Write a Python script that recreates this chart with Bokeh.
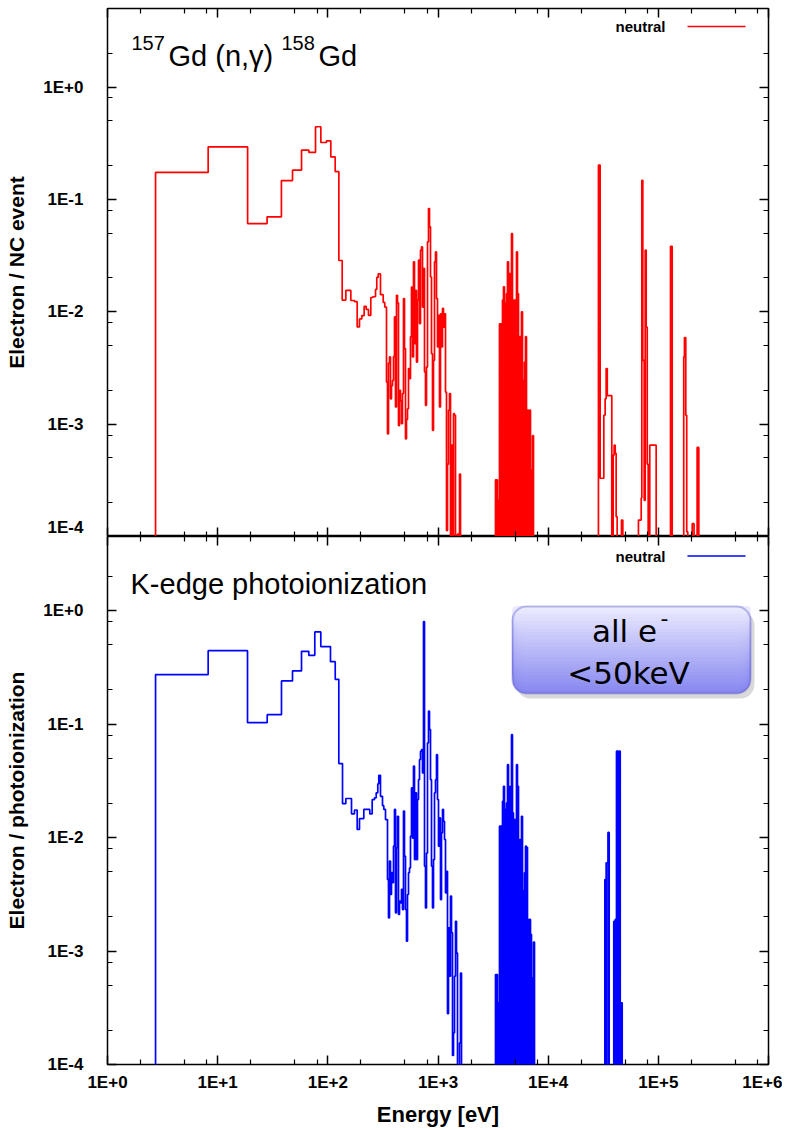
import numpy as np
from bokeh.plotting import figure
from bokeh.layouts import column
from bokeh.models import (LogAxis, FixedTicker, CustomJSTickFormatter, Label,
                          BoxAnnotation, Arrow, Range1d)
from bokeh.embed import file_html
from bokeh.resources import INLINE

# ---------------- data ----------------
x_major = [1, 10, 100, 1e3, 1e4, 1e5, 1e6]
y_major = [1e-4, 1e-3, 1e-2, 1e-1, 1]
minor_mant = [2, 5, 8]

# --- 157Gd(n,gamma)158Gd : electrons per NC event ---
nc_low_edges = [2.73, 8.2, 18.7, 28.1, 37.9, 47.8, 57.7, 67.3, 77.3, 86.4, 97.3, 106.4,
                116.6, 125.9, 135, 145.6, 161.7, 174.6, 184.7, 193.8, 203.3, 213.7, 222.8,
                233.8, 245.5, 256, 270.8, 278.2, 286.4, 300.6, 318, 328.8, 340.8]
nc_low_vals = [0.174, 0.294, 0.061, 0.070, 0.147, 0.182, 0.275, 0.262, 0.443, 0.321,
               0.332, 0.239, 0.177, 0.0286, 0.0127, 0.0155, 0.0126, 0.0123, 0.00733, 0.00864,
               0.00925, 0.0112, 0.0105, 0.0093, 0.0134, 0.0136, 0.0158, 0.0202, 0.0217, 0.0142,
               0.0121, 0.011]

mid_edges = [340.8, 348.0, 355.3, 362.8, 370.5, 378.3, 386.3, 394.5, 402.8, 411.3, 420.0,
             428.9, 437.9, 447.2, 456.6, 466.3, 476.1, 486.2, 496.4, 507.0, 517.6, 528.6,
             539.7, 551.0, 562.6, 574.6, 586.7, 599.1, 611.8, 624.7, 637.9, 651.5, 665.2,
             679.3, 693.6, 708.3, 723.3, 738.6, 754.2, 770.1, 786.4, 803.0, 819.9, 837.3,
             855.0, 873.0, 891.5, 910.3, 929.5, 949.2, 969.2, 989.7, 1010.6, 1032, 1053.8,
             1076, 1098.8, 1122, 1145.7, 1169.9, 1194.6, 1219.8, 1245.6, 1271.9, 1298.8,
             1326.2, 1354.2, 1382.8, 1412, 1441.9, 1472.3, 1503.4, 1535.2, 1567.6, 1600.7,
             1634.5, 1669.0]
nc_mid_vals = [0.00237, 8.2e-4, 0.0035, 0.00396, 0.00168, 0.0022, 0.00245, 0.004, 0.009, 0.00142,
               0.014, 0.012, 9.7e-4, 0.002, 0.0016, 0.00101, 0.00187, 0.0131, 0.0047, 7.4e-4,
               0.0011, 0.00137, 0.00312, 0.00254, 0.006,
               0.0166, 0.00396, 0.0278, 0.0052, 0.0155, 0.00357, 0.0127, 0.0288, 0.00785, 0.0353,
               0.0378, 0.0110, 0.0243, 0.00291, 0.00147, 0.00322, 0.0419, 0.083, 0.057, 0.0204,
               0.00424, 8.8e-4, 0.0037, 0.0278, 0.0341, 0.0131, 0.00486, 0.0093, 0.00142, 0.0096,
               0.00486, 0.0107, 0.0073, 0.0096, 0.00193, 1.13e-4, 4.4e-4, 0.00133, 0.00187, 0,
               6.5e-4, 0, 0.00124, 0.0012, 0, 0, 1.05e-4, 0, 3.6e-4, 0,
               0]

cl_edges = [3325, 3395, 3467, 3540, 3615, 3691, 3769, 3849, 3930, 4013, 4098, 4185, 4273,
            4363, 4455, 4549, 4646, 4744, 4844, 4946, 5051, 5157, 5266, 5378, 5491, 5607,
            5726, 5847, 5970, 6096, 6225, 6357, 6491, 6628, 6768, 6911, 7057, 7206, 7358, 7514]
nc_cl_vals = [3.2e-4, 3.2e-4, 2.1e-4, 2.1e-4, 0.0078, 0.0078, 0.0014, 0.0127, 0.0167, 0.00163,
              0.0119, 0.0145, 0.0278, 0.0145, 0.0219, 0.0122, 0.0497, 0.0127, 0.0084, 0.0127,
              0.0028, 0.0341, 0.0145, 0.0044, 0.006, 0.00396, 0.0100, 0.00245, 0.00193, 0.00357,
              0.006, 7.7e-4, 0.00133, 7.4e-4, 0.00133, 3.9e-4, 3.9e-4, 7.9e-4, 0]

nc_k_edges = [28.6e3, 29.65e3, 32.0e3, 32.9e3, 33.6e3, 34.4e3, 35.1e3, 37.8e3, 38.9e3, 39.7e3,
              40.6e3, 41.4e3, 42.3e3, 46.3e3, 47.6e3, 66.0e3, 67.9e3, 69.9e3, 70.8e3, 72.3e3,
              74.4e3, 76.0e3, 77.6e3, 79.3e3, 80.9e3, 83.6e3, 95.6e3, 129e3, 133.6e3, 170e3,
              172.6e3, 177.4e3, 181e3, 185e3, 203e3, 211e3, 225e3, 233e3, 250e3]
nc_k_vals = [0.202, 3.3e-4, 0.0012, 0.00168, 0.00312, 0.00179, 0.00179, 0, 5.3e-4, 6.5e-4,
             5.5e-4, 1.5e-4, 0, 1.4e-4, 0, 1.4e-4, 1.4e-4, 2.2e-4, 0.148, 0.0037,
             2.1e-4, 0.0353, 0.0073, 4.4e-4, 0, 6.5e-4, 0, 0.0383, 0, 0.00396,
             0.0059, 0.0012, 1.1e-4, 0, 1.3e-4, 0, 6.2e-4, 0]

# --- K-edge photoionization : electrons per photoionization ---
pi_low_edges = [2.73, 8.2, 18.66, 28.16, 37.96, 47.78, 57.68, 67.18, 76.15, 86.34, 105.7,
                116.7, 125.8, 135.9, 145.6, 164.0, 174.6, 184.7, 193.8, 212.1, 240.4, 252.7,
                265.2, 274.8, 284.1, 290.1, 300.6, 313.5, 322.1, 333.8, 340.8]
pi_low_vals = [0.273, 0.444, 0.103, 0.121, 0.240, 0.294, 0.438, 0.404, 0.649, 0.482,
               0.355, 0.248, 0.0449, 0.0199, 0.0221, 0.0162, 0.0175, 0.0118, 0.0147, 0.0177,
               0.0162, 0.0216, 0.0224, 0.0248, 0.0297, 0.0354, 0.0231, 0.0191, 0.0177, 0.0144]
pi_mid_vals = [0.0144, 0.00426, 0.00196, 0.0062, 0.00315, 0.0049, 0.0040, 0.0084, 0.0177, 0.00217,
               0.0081, 0.0154, 0.0021, 0.00275, 0.00266, 0.0035, 0.00232, 0.0171, 0.00686, 0.00232,
               0.00122, 0.00315, 0.0049, 0.0054, 0.0103,
               0.0274, 0.0099, 0.0426, 0.0064, 0.0248, 0.0064, 0.0216, 0.0324, 0.0486, 0.0576,
               0.0595, 0.0371, 0.80, 0.0056, 0.0024, 0.0073, 0.0682, 0.130, 0.0895, 0.0324,
               0.0056, 0.0024, 0.0064, 0.0248, 0.0324, 0.0538, 0.0216, 0.0084, 0.0149, 0.00284,
               0.011, 0.0177, 0.0139, 0.0096, 0.00326, 0.00505, 2.8e-4, 0.0016, 6.0e-4, 0.00305,
               0.00145, 1.2e-4, 1.9e-4, 6.0e-4, 0.00183, 9.6e-4, 0, 0, 1.55e-4, 6.4e-4,
               0]
pi_cl_vals = [6.2e-4, 6.2e-4, 3.5e-4, 3.5e-4, 0.0126, 0.0126, 0.00232, 0.0209, 0.0283, 0.0019,
              0.0177, 0.0202, 0.0439, 0.0283, 0.0202, 0.0283, 0.0807, 0.0165, 0.0126, 0.0144,
              0.0049, 0.0439, 0.0283, 0.0076, 0.0096, 0.0073, 0.0154, 0.0034, 0.00284, 0.0049,
              0.0084, 0.0082, 0.0019, 0.00145, 0.0019, 0.0014, 5.8e-4, 5.8e-4, 0.0012]
pi_k_edges = [32.7e3, 33.6e3, 34.9e3, 35.8e3, 39.4e3, 40.6e3, 41.7e3, 42.6e3, 43.4e3, 44.3e3,
              45.1e3, 45.6e3, 47.0e3, 50e3]
pi_k_vals = [0.00427, 0.0060, 0.0111, 0, 0.00183, 0.0019, 0.0577, 0.0577, 0.0560, 0.0577,
             1.55e-4, 3.5e-4, 0]

# ---------------- helpers ----------------
FLOOR = 1e-6  # below the axis: empty bins


def steps(edges, vals):
    xs, ys = [edges[0]], [FLOOR]
    for i, v in enumerate(vals):
        v = v if v > 0 else FLOOR
        xs += [edges[i], edges[i + 1]]
        ys += [v, v]
    xs.append(edges[-1]); ys.append(FLOOR)
    return xs, ys


def spikes(edges, vals):
    xs, ys = [], []
    for i, v in enumerate(vals):
        v = v if v > 0 else FLOOR
        xs += [edges[i], edges[i], edges[i + 1], edges[i + 1]]
        ys += [FLOOR, v, v, FLOOR]
    return xs, ys


def series(low_e, low_v, mid_v, cl_v, k_e, k_v, k_filled):
    x1, y1 = steps(low_e[:-1] + mid_edges, low_v + mid_v)
    x2, y2 = spikes(cl_edges, cl_v)
    x3, y3 = (spikes if k_filled else steps)(k_e, k_v)
    return x1 + x2 + x3, y1 + y2 + y3


FL, FR = 107, 768  # frame left/right (page px)


def xd(px):
    return 10 ** ((px - FL) / (FR - FL) * 6)


def make_yd(top_px, bot_px, lo, hi):
    def f(py):
        return 10 ** (np.log10(lo) + (bot_px - py) / (bot_px - top_px) * (np.log10(hi) - np.log10(lo)))
    return f


FONT = "Liberation Sans"
xtick = FixedTicker(ticks=x_major, minor_ticks=[m * 10 ** k for k in range(0, 6) for m in minor_mant])
ytick = FixedTicker(ticks=y_major, minor_ticks=[m * 10.0 ** k for k in range(-4, 1) for m in minor_mant])
fmt = CustomJSTickFormatter(code="const e = Math.round(Math.log10(tick)); return '1E' + (e >= 0 ? '+' : '') + e;")
blank = CustomJSTickFormatter(code="return '';")


def style_axis(ax, ticker, labels):
    ax.ticker = ticker
    ax.major_tick_in = 9
    ax.major_tick_out = 0
    ax.minor_tick_in = 5
    ax.minor_tick_out = 0
    ax.major_tick_line_width = 1.5
    ax.minor_tick_line_width = 1.2
    ax.major_tick_line_color = "black"
    ax.minor_tick_line_color = "black"
    ax.axis_line_color = None
    if labels:
        ax.formatter = fmt
        ax.major_label_text_font = FONT
        ax.major_label_text_font_style = "bold"
        ax.major_label_text_font_size = "17px"
        ax.major_label_text_color = "black"
        ax.axis_label_text_font = FONT
        ax.axis_label_text_font_style = "bold"
        ax.axis_label_text_font_size = "21px"
        ax.axis_label_text_color = "black"
    else:
        ax.formatter = blank
        ax.major_label_standoff = 0
        ax.axis_label = None


def make_fig(ylo, yhi, ylabel, xlabels, min_top, min_bottom):
    p = figure(x_axis_type="log", y_axis_type="log",
               x_range=Range1d(1, 1e6), y_range=Range1d(ylo, yhi),
               frame_width=FR - FL, frame_height=528,
               output_backend="svg", toolbar_location=None,
               min_border_left=FL, min_border_right=14, min_border_top=min_top,
               min_border_bottom=min_bottom)
    p.grid.visible = False
    p.outline_line_color = "black"
    p.outline_line_width = 1.5
    p.background_fill_color = "white"
    p.border_fill_color = "white"
    style_axis(p.yaxis[0], ytick, True)
    p.yaxis[0].axis_label = ylabel
    p.yaxis[0].major_label_standoff = 24
    p.yaxis[0].axis_label_standoff = 12
    style_axis(p.xaxis[0], xtick, xlabels)
    if xlabels:
        p.xaxis[0].major_label_standoff = 8
        p.xaxis[0].axis_label = "Energy [eV]"
        p.xaxis[0].axis_label_text_font_size = "22px"
        p.xaxis[0].axis_label_standoff = 7
    top_ax = LogAxis()
    style_axis(top_ax, xtick, False)
    p.add_layout(top_ax, "above")
    right_ax = LogAxis()
    style_axis(right_ax, ytick, False)
    p.add_layout(right_ax, "right")
    return p


def add_label(p, txt, px, py, yconv, size, align="left", baseline="alphabetic",
              font=FONT, style="normal"):
    p.add_layout(Label(x=xd(px), y=yconv(py), text=txt, text_font=font,
                       text_font_size=f"{size}px", text_font_style=style,
                       text_align=align, text_baseline=baseline, text_color="black"))


LW = 1.7

# ---------------- top panel ----------------
p1 = make_fig(1e-4, 5, "Electron / NC event", False, 8, 0)
yd1 = make_yd(8, 536, 1e-4, 5)
xs, ys = series(nc_low_edges, nc_low_vals, nc_mid_vals, nc_cl_vals, nc_k_edges, nc_k_vals, False)
p1.line(xs, ys, line_color="#ff0000", line_width=LW)

add_label(p1, "157", 131, 42, yd1, 20)
add_label(p1, "Gd (n,\u03b3)", 168, 55, yd1, 29)
add_label(p1, "158", 281, 42, yd1, 20)
add_label(p1, "Gd", 318, 55, yd1, 29)
add_label(p1, "neutral", 665, 26, yd1, 15, align="right", baseline="middle", style="bold")
p1.add_layout(Arrow(end=None, x_start=xd(687), y_start=yd1(26), x_end=xd(745), y_end=yd1(26),
                    line_color="#ff0000", line_width=1.5))

# ---------------- bottom panel ----------------
p2 = make_fig(1e-4, 4.5, "Electron / photoionization", True, 0, 40)
yd2 = make_yd(536, 1064, 1e-4, 4.5)
xs, ys = series(pi_low_edges, pi_low_vals, pi_mid_vals, pi_cl_vals, pi_k_edges, pi_k_vals, True)
p2.line(xs, ys, line_color="#0000ff", line_width=LW)

add_label(p2, "K-edge photoionization", 130, 583, yd2, 29)
add_label(p2, "neutral", 665, 556, yd2, 15, align="right", baseline="middle", style="bold")
p2.add_layout(Arrow(end=None, x_start=xd(687), y_start=yd2(555.5), x_end=xd(745), y_end=yd2(555.5),
                    line_color="#0000ff", line_width=1.5))

# rounded gradient box "all e- <50keV"
BL, BR, BT, BB = 512, 750, 606, 693
p2.add_layout(BoxAnnotation(left=xd(BL + 4), right=xd(BR + 4), top=yd2(BT + 5), bottom=yd2(BB + 5),
                            fill_color="#808080", fill_alpha=0.3, line_color=None, border_radius=14))
c_bot = np.array([0x88, 0x88, 0xf0])
c_top = np.array([0xea, 0xea, 0xff])
n = 24
for i in range(n):
    t = i / n
    b = BB - (BB - BT) * t
    c = c_bot + (c_top - c_bot) * (i / (n - 1))
    col = "#%02x%02x%02x" % tuple(int(round(v)) for v in c)
    p2.add_layout(BoxAnnotation(left=xd(BL), right=xd(BR), top=yd2(BT), bottom=yd2(b),
                                fill_color=col, fill_alpha=1.0, line_color=None, border_radius=14))
p2.add_layout(BoxAnnotation(left=xd(BL), right=xd(BR), top=yd2(BT), bottom=yd2(BB),
                            fill_color=None, line_color="#3636b8", line_width=2, border_radius=14))
add_label(p2, "all e", 624, 630, yd2, 31, align="center", baseline="middle", font="DejaVu Sans")
add_label(p2, "-", 664, 617, yd2, 22, align="center", baseline="middle", font="DejaVu Sans")
add_label(p2, "<50keV", 628, 672, yd2, 31, align="center", baseline="middle", font="DejaVu Sans")

layout = column(p1, p2)
open("out.html", "w").write(file_html(layout, INLINE))
